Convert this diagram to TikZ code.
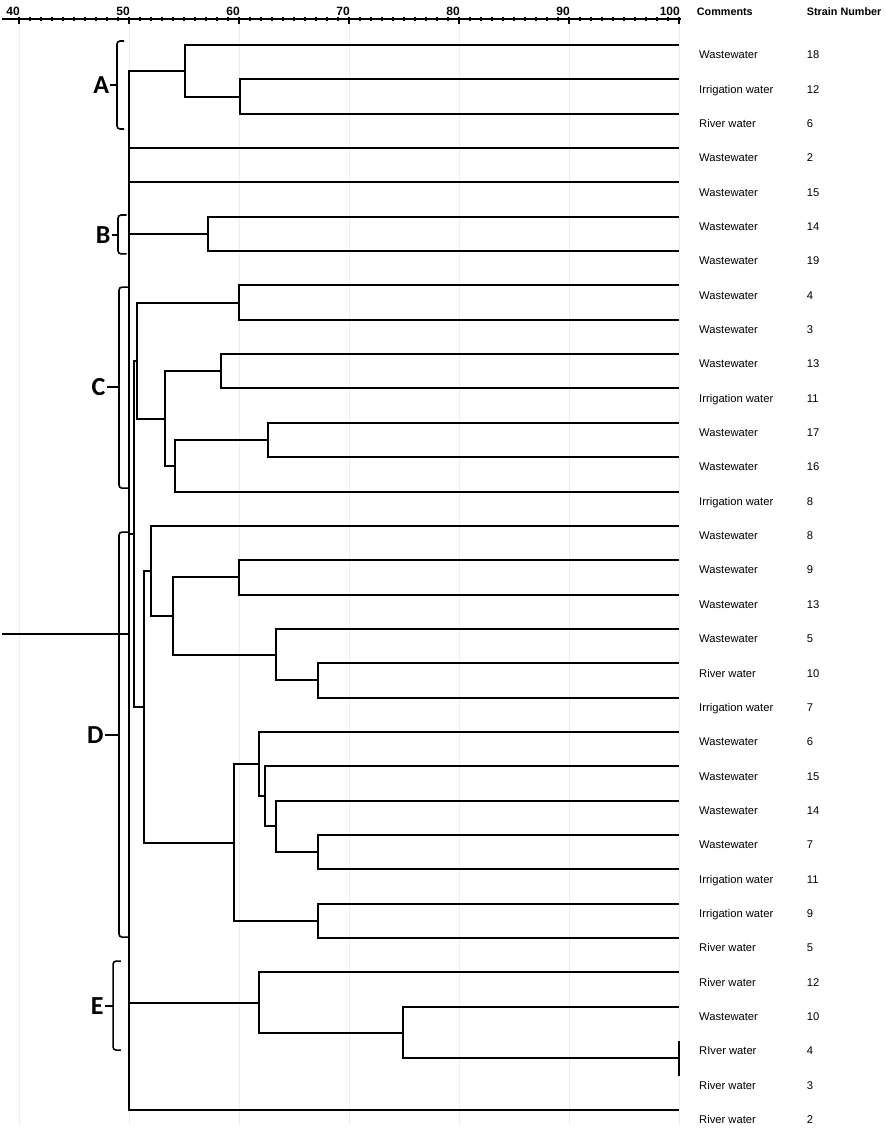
\documentclass[tikz,border=0pt]{standalone}
\usepackage{fontspec}
\setmainfont{Liberation Sans}
\newfontfamily\clusterfont{Carlito}
\usetikzlibrary{positioning}
\definecolor{gridgray}{gray}{0.93}

\begin{document}
\begin{tikzpicture}
[x=11pt, y=-34.35pt,
branch/.style={line width=2pt},
gridline/.style={gridgray, line width=1pt},
scaleline/.style={line width=1.6pt},
brace/.style={line width=1.6pt, rounded corners=3pt},
cluster/.style={font=\clusterfont\bfseries\fontsize{26}{26}\selectfont, inner sep=1pt, anchor=east},
comment/.style={font=\fontsize{11.2}{12}\selectfont, anchor=base west, inner sep=0pt},
ticklabel/.style={font=\bfseries\fontsize{12}{12}\selectfont, anchor=base east, inner sep=0pt, xshift=1pt, yshift=3pt},
header/.style={font=\bfseries\fontsize{10.8}{12}\selectfont, anchor=base west, inner sep=0pt},
]
\useasboundingbox (38.273,-0.31) rectangle (118.818,32.587);

\foreach \v in {40,50,...,100}
  \draw[gridline] (\v,0.243) -- (\v,32.44);
\draw[scaleline] (38.45,0.243) -- (100.2,0.243);
\foreach \v in {40,...,100}
  \draw[line width=1.2pt] (\v,0.243) ++(0pt,2pt) -- ++(0pt,-4pt);
\foreach \v in {40,50,...,100}
{
  \draw[line width=1.4pt] (\v,0.243) ++(0pt,2pt) -- ++(0pt,-7pt);
  \node[ticklabel] (s\v) at (\v,0.243) {\v};
}

\node[header] (comments) at (101.61,0.127) {Comments};
\node[header] (strain) at (111.61,0.127) {Strain Number};

\foreach \i/\com/\num in {1/Wastewater/18, 2/Irrigation water/12, 3/River water/6,
  4/Wastewater/2, 5/Wastewater/15, 6/Wastewater/14, 7/Wastewater/19, 8/Wastewater/4,
  9/Wastewater/3, 10/Wastewater/13, 11/Irrigation water/11, 12/Wastewater/17,
  13/Wastewater/16, 14/Irrigation water/8, 15/Wastewater/8, 16/Wastewater/9,
  17/Wastewater/13, 18/Wastewater/5, 19/River water/10, 20/Irrigation water/7,
  21/Wastewater/6, 22/Wastewater/15, 23/Wastewater/14, 24/Wastewater/7,
  25/Irrigation water/11, 26/Irrigation water/9, 27/River water/5, 28/River water/12,
  29/Wastewater/10, 30/RIver water/4, 31/River water/3, 32/River water/2}
{
  \coordinate (l\i) at (100,\i);
  \node[comment] (com\i) at (101.82,\i+0.4) {\com};
  \node[comment] (num\i) at (111.61,\i+0.4) {\num};
}

\coordinate (root) at (50,18.15);
\coordinate (stem) at (38.45,18.15);
\coordinate (a) at (55.1,1.75);
\coordinate (a23) at (60.1,2.5);
\coordinate (b) at (57.15,6.5);
\coordinate (cd) at (50.45,15.23);
\coordinate (c) at (50.7,10.19);
\coordinate (c1) at (60,8.5);
\coordinate (c5) at (53.3,11.875);
\coordinate (c2) at (58.4,10.5);
\coordinate (c4) at (54.2,13.25);
\coordinate (c3) at (62.6,12.5);
\coordinate (d) at (51.35,20.27);
\coordinate (d5) at (52,16.31);
\coordinate (d4) at (54,17.625);
\coordinate (d1) at (60,16.5);
\coordinate (d3) at (63.4,18.75);
\coordinate (d2) at (67.2,19.5);
\coordinate (d11) at (59.55,24.22);
\coordinate (d9) at (61.8,21.94);
\coordinate (d8) at (62.4,22.875);
\coordinate (d7) at (63.4,23.75);
\coordinate (d6) at (67.2,24.5);
\coordinate (d10) at (67.2,26.5);
\coordinate (e) at (61.8,28.875);
\coordinate (e2) at (74.9,29.75);
\coordinate (e1) at (100,30.5);

\draw[branch] (stem) -- (root);
\foreach \p/\q in {root/a, root/l4, root/l5, root/b, root/cd, root/e, root/l32,
  a/l1, a/a23, a23/l2, a23/l3, b/l6, b/l7, cd/c, cd/d,
  c/c1, c/c5, c1/l8, c1/l9, c5/c2, c5/c4, c2/l10, c2/l11, c4/c3, c4/l14, c3/l12, c3/l13,
  d/d5, d/d11, d5/l15, d5/d4, d4/d1, d4/d3, d1/l16, d1/l17, d3/l18, d3/d2, d2/l19, d2/l20,
  d11/d9, d11/d10, d9/l21, d9/d8, d8/l22, d8/d7, d7/l23, d7/d6, d6/l24, d6/l25, d10/l26, d10/l27,
  e/l28, e/e2, e2/l29, e2/e1, e1/l30, e1/l31}
  \draw[branch] (\p) |- (\q);

\foreach \n/\bx/\tp/\bt/\md/\tip/\tk in {A/48.91/0.884/3.445/2.164/49.55/48.3,
  B/49.0/5.95/7.08/6.53/49.79/48.43, C/49.09/8.05/13.90/10.96/50.09/47.97,
  D/49.09/15.18/26.97/21.09/50.09/47.8, E/48.55/27.67/30.26/28.98/49.27/47.8}
{
  \node[cluster] (lab\n) at (\tk,\md) {\n};
  \draw[brace] (\tip,\tp) -- (\bx,\tp) -- (\bx,\bt) -- (\tip,\bt);
  \draw[brace] (\bx,\md) -- (lab\n);
}
\end{tikzpicture}
\end{document}
